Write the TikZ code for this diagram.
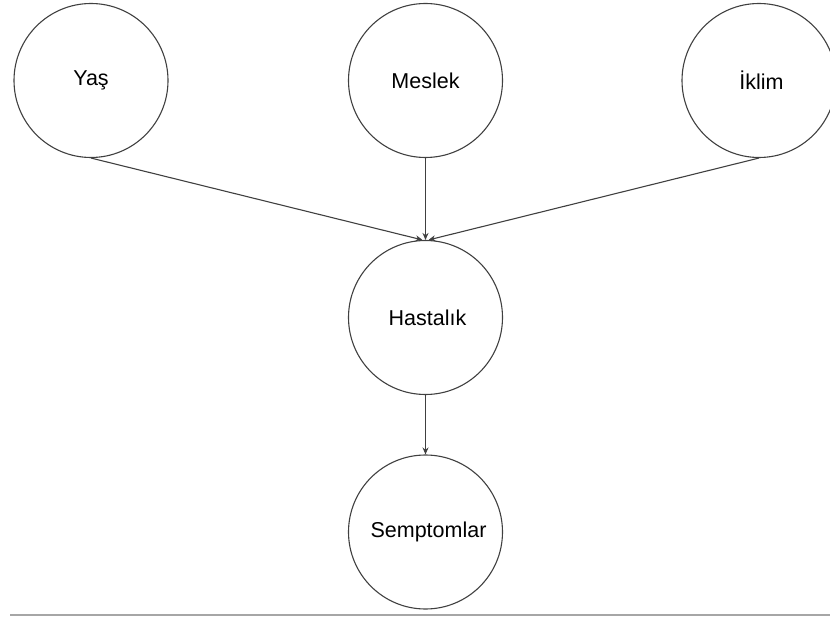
\documentclass[tikz,border=0pt]{standalone}
\usepackage{fontspec}
\setmainfont{Liberation Sans}
\usetikzlibrary{arrows.meta}
\begin{document}
\begin{tikzpicture}[x=1pt,y=-1pt,
  var/.style={circle,draw=black!75,line width=1.1pt,minimum size=154pt,inner sep=0pt,font=\fontsize{21.5}{25}\selectfont},
  link/.style={draw=black!75,line width=1.1pt,-{Stealth[length=7pt,width=6pt]}}]
\useasboundingbox (0,0) rectangle (830,617);
\clip (0,0) rectangle (830,617);
\node[var] (yas) at (91,80.5) {\raisebox{-2pt}{Yaş}};
\node[var] (meslek) at (425.5,80.5) {\raisebox{-2pt}{Meslek}};
\node[var] (iklim) at (759,80.5) {\raisebox{-2pt}{\hspace*{5pt}İklim}};
\node[var] (has) at (425.5,317.5) {\raisebox{-1pt}{\hspace*{4pt}Hastalık}};
\node[var] (sem) at (425.5,532) {\raisebox{-1pt}{\hspace*{6pt}Semptomlar}};
\draw[link] (yas.south) -- ([xshift=-3pt]has.north);
\draw[link] (meslek.south) -- (has.north);
\draw[link] (iklim.south) -- ([xshift=3pt]has.north);
\draw[link] (has.south) -- (sem.north);
\coordinate (lineL) at (10,615);
\coordinate (lineR) at (830,615);
\draw[black!35,line width=1.3pt] (lineL) -- (lineR);
\end{tikzpicture}
\end{document}
